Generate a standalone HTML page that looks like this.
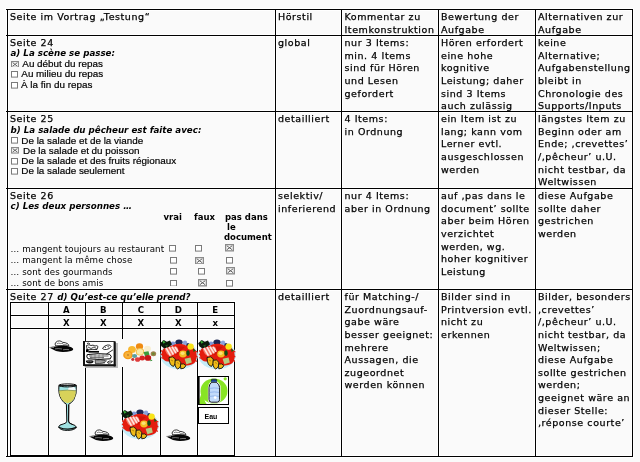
<!DOCTYPE html>
<html><head><meta charset="utf-8"><style>
html,body{margin:0;padding:0;background:#fafafa;}
body{width:640px;height:462px;position:relative;overflow:hidden;}
#w{position:absolute;left:0;top:0;width:640px;height:462px;will-change:transform;}
.l{position:absolute;}
.t,.bi,.ar,.sb,.sm,.nb{position:absolute;white-space:nowrap;color:#000;}
.t{font-family:"DejaVu Sans",sans-serif;font-size:9.5px;line-height:12.6px;letter-spacing:0.57px;-webkit-text-stroke:0.25px #000;}
.bi{font-family:"DejaVu Sans",sans-serif;font-size:8.7px;line-height:11px;font-weight:bold;font-style:italic;}
.bi2{font-size:8.7px;font-weight:bold;font-style:italic;letter-spacing:0;-webkit-text-stroke:0;}
.sb{font-family:"DejaVu Sans",sans-serif;font-size:8.5px;line-height:10.3px;font-weight:bold;}
.sm{font-family:"DejaVu Sans",sans-serif;font-size:8.7px;line-height:11px;letter-spacing:0.1px;}
.ar{font-family:"Liberation Sans",Arial,sans-serif;font-size:9.9px;line-height:11px;-webkit-text-stroke:0.2px #000;}
.nb{font-family:"DejaVu Sans",sans-serif;font-size:8.6px;line-height:12px;font-weight:bold;width:36px;text-align:center;}
.cb{position:absolute;line-height:0;}
.pic{position:absolute;line-height:0;}
.pic svg,.cb svg{display:block;}
.eau{position:absolute;left:198px;top:407px;width:29px;height:15px;border:1px solid #000;background:#fff;}
.eau span{position:absolute;left:5.5px;top:4.9px;font-family:"Liberation Sans",Arial,sans-serif;font-size:7px;font-weight:bold;line-height:8px;}
</style></head><body>
<div id="w">
<div class="l" style="left:5px;top:8px;width:629px;height:3px;background:#fff"></div>
<div class="l" style="left:5px;top:34px;width:629px;height:3px;background:#fff"></div>
<div class="l" style="left:5px;top:110px;width:629px;height:3px;background:#fff"></div>
<div class="l" style="left:5px;top:187px;width:629px;height:3px;background:#fff"></div>
<div class="l" style="left:5px;top:288px;width:629px;height:3px;background:#fff"></div>
<div class="l" style="left:5px;top:455px;width:629px;height:3px;background:#fff"></div>
<div class="l" style="left:6px;top:8px;width:3px;height:450px;background:#fff"></div>
<div class="l" style="left:274px;top:8px;width:3px;height:450px;background:#fff"></div>
<div class="l" style="left:340px;top:8px;width:3px;height:450px;background:#fff"></div>
<div class="l" style="left:437px;top:8px;width:3px;height:450px;background:#fff"></div>
<div class="l" style="left:534px;top:8px;width:3px;height:450px;background:#fff"></div>
<div class="l" style="left:631px;top:8px;width:3px;height:450px;background:#fff"></div>
<div class="l" style="left:9px;top:301px;width:227px;height:3px;background:#fff"></div>
<div class="l" style="left:9px;top:314px;width:227px;height:3px;background:#fff"></div>
<div class="l" style="left:9px;top:327px;width:227px;height:3px;background:#fff"></div>
<div class="l" style="left:9px;top:454px;width:227px;height:3px;background:#fff"></div>
<div class="l" style="left:9px;top:301px;width:3px;height:156px;background:#fff"></div>
<div class="l" style="left:47px;top:301px;width:3px;height:156px;background:#fff"></div>
<div class="l" style="left:84px;top:301px;width:3px;height:156px;background:#fff"></div>
<div class="l" style="left:121px;top:301px;width:3px;height:156px;background:#fff"></div>
<div class="l" style="left:159px;top:301px;width:3px;height:156px;background:#fff"></div>
<div class="l" style="left:196px;top:301px;width:3px;height:156px;background:#fff"></div>
<div class="l" style="left:233px;top:301px;width:3px;height:156px;background:#fff"></div>
<div class="l" style="left:6px;top:9px;width:627px;height:1px;background:#000"></div>
<div class="l" style="left:6px;top:35px;width:627px;height:1px;background:#000"></div>
<div class="l" style="left:6px;top:111px;width:627px;height:1px;background:#000"></div>
<div class="l" style="left:6px;top:188px;width:627px;height:1px;background:#000"></div>
<div class="l" style="left:6px;top:289px;width:627px;height:1px;background:#000"></div>
<div class="l" style="left:6px;top:456px;width:627px;height:1px;background:#000"></div>
<div class="l" style="left:7px;top:9px;width:1px;height:448px;background:#000"></div>
<div class="l" style="left:275px;top:9px;width:1px;height:448px;background:#000"></div>
<div class="l" style="left:341px;top:9px;width:1px;height:448px;background:#000"></div>
<div class="l" style="left:438px;top:9px;width:1px;height:448px;background:#000"></div>
<div class="l" style="left:535px;top:9px;width:1px;height:448px;background:#000"></div>
<div class="l" style="left:632px;top:9px;width:1px;height:448px;background:#000"></div>
<div class="t" style="left:10px;top:11.2px;">Seite im Vortrag „Testung“</div>
<div class="t" style="left:278px;top:11.2px;">Hörstil</div>
<div class="t" style="left:344.5px;top:11.2px;">Kommentar zu<br>Itemkonstruktion</div>
<div class="t" style="left:441px;top:11.2px;">Bewertung der<br>Aufgabe</div>
<div class="t" style="left:538px;top:11.2px;">Alternativen zur<br>Aufgabe</div>
<div class="t" style="left:278px;top:37.2px;">global</div>
<div class="t" style="left:344.5px;top:37.2px;">nur 3 Items:<br>min. 4 Items<br>sind für Hören<br>und Lesen<br>gefordert</div>
<div class="t" style="left:441px;top:37.2px;">Hören erfordert<br>eine hohe<br>kognitive<br>Leistung; daher<br>sind 3 Items<br>auch zulässig</div>
<div class="t" style="left:538px;top:37.2px;">keine<br>Alternative;<br>Aufgabenstellung<br>bleibt in<br>Chronologie des<br>Supports/Inputs</div>
<div class="t" style="left:278px;top:113.2px;">detailliert</div>
<div class="t" style="left:344.5px;top:113.2px;">4 Items:<br>in Ordnung</div>
<div class="t" style="left:441px;top:113.2px;">ein Item ist zu<br>lang; kann vom<br>Lerner evtl.<br>ausgeschlossen<br>werden</div>
<div class="t" style="left:538px;top:113.2px;">längstes Item zu<br>Beginn oder am<br>Ende; ‚crevettes’<br>/‚pêcheur’ u.U.<br>nicht testbar, da<br>Weltwissen</div>
<div class="t" style="left:278px;top:190.2px;">selektiv/<br>inferierend</div>
<div class="t" style="left:344.5px;top:190.2px;">nur 4 Items:<br>aber in Ordnung</div>
<div class="t" style="left:441px;top:190.2px;">auf ‚pas dans le<br>document’ sollte<br>aber beim Hören<br>verzichtet<br>werden, wg.<br>hoher kognitiver<br>Leistung</div>
<div class="t" style="left:538px;top:190.2px;">diese Aufgabe<br>sollte daher<br>gestrichen<br>werden</div>
<div class="t" style="left:278px;top:291.2px;">detailliert</div>
<div class="t" style="left:344.5px;top:291.2px;">für Matching-/<br>Zuordnungsauf-<br>gabe wäre<br>besser geeignet:<br>mehrere<br>Aussagen, die<br>zugeordnet<br>werden können</div>
<div class="t" style="left:441px;top:291.2px;">Bilder sind in<br>Printversion evtl.<br>nicht zu<br>erkennen</div>
<div class="t" style="left:538px;top:291.2px;">Bilder, besonders<br>‚crevettes’<br>/‚pêcheur’ u.U.<br>nicht testbar, da<br>Weltwissen;<br>diese Aufgabe<br>sollte gestrichen<br>werden;<br>geeignet wäre an<br>dieser Stelle:<br>‚réponse courte’</div>
<div class="t" style="left:10px;top:37.2px;">Seite 24</div>
<div class="bi" style="left:10.5px;top:48px;">a) La scène se passe:</div>
<div class="cb" style="left:11px;top:60.5px"><svg width="8" height="6.8" viewBox="0 0 8 6.8"><rect x="0.55" y="0.55" width="6.9" height="5.699999999999999" fill="#fbfbfb" stroke="#8a8a8a" stroke-width="1.1"/><path d="M1.7000000000000002 1.6 L6.300000000000001 5.199999999999999 M6.300000000000001 1.6 L1.7000000000000002 5.199999999999999" stroke="#5a5a5a" stroke-width="0.95"/></svg></div>
<div class="ar" style="left:22.3px;top:57.5px;">Au début du repas</div>
<div class="cb" style="left:11px;top:71.2px"><svg width="7" height="6.6" viewBox="0 0 7 6.6"><rect x="0.5" y="0.5" width="6" height="5.6" fill="#fff" stroke="#7a7a7a" stroke-width="1"/></svg></div>
<div class="ar" style="left:21.3px;top:68.3px;">Au milieu du repas</div>
<div class="cb" style="left:11px;top:82.1px"><svg width="7" height="6.6" viewBox="0 0 7 6.6"><rect x="0.5" y="0.5" width="6" height="5.6" fill="#fff" stroke="#7a7a7a" stroke-width="1"/></svg></div>
<div class="ar" style="left:21.0px;top:79px;">À la fin du repas</div>
<div class="t" style="left:10px;top:113.2px;">Seite 25</div>
<div class="bi" style="left:10.5px;top:124.5px;">b) La salade du pêcheur est faite avec:</div>
<div class="cb" style="left:11px;top:137.3px"><svg width="7" height="6.6" viewBox="0 0 7 6.6"><rect x="0.5" y="0.5" width="6" height="5.6" fill="#fff" stroke="#7a7a7a" stroke-width="1"/></svg></div>
<div class="ar" style="left:21.3px;top:134.6px;">De la salade et de la viande</div>
<div class="cb" style="left:11px;top:147.3px"><svg width="8" height="6.6" viewBox="0 0 8 6.6"><rect x="0.55" y="0.55" width="6.9" height="5.5" fill="#fbfbfb" stroke="#8a8a8a" stroke-width="1.1"/><path d="M1.7000000000000002 1.6 L6.300000000000001 5.0 M6.300000000000001 1.6 L1.7000000000000002 5.0" stroke="#5a5a5a" stroke-width="0.95"/></svg></div>
<div class="ar" style="left:23px;top:144.5px;">De la salade et du poisson</div>
<div class="cb" style="left:11px;top:158.4px"><svg width="7" height="6.6" viewBox="0 0 7 6.6"><rect x="0.5" y="0.5" width="6" height="5.6" fill="#fff" stroke="#7a7a7a" stroke-width="1"/></svg></div>
<div class="ar" style="left:21.3px;top:155.4px;">De la salade et des fruits régionaux</div>
<div class="cb" style="left:11px;top:168.2px"><svg width="7" height="6.6" viewBox="0 0 7 6.6"><rect x="0.5" y="0.5" width="6" height="5.6" fill="#fff" stroke="#7a7a7a" stroke-width="1"/></svg></div>
<div class="ar" style="left:21.3px;top:165.1px;">De la salade seulement</div>
<div class="t" style="left:10px;top:190.2px;">Seite 26</div>
<div class="bi" style="left:10.5px;top:200.5px;">c) Les deux personnes …</div>
<div class="sb" style="left:163.5px;top:211.5px;">vrai</div>
<div class="sb" style="left:194px;top:211.5px;">faux</div>
<div class="sb" style="left:225px;top:211.5px;">pas dans</div>
<div class="sb" style="left:227px;top:221.8px;">le</div>
<div class="sb" style="left:224px;top:232.1px;">document</div>
<div class="sm" style="left:10.5px;top:243.5px;">… mangent toujours au restaurant</div>
<div class="sm" style="left:10.5px;top:255.0px;">… mangent la même chose</div>
<div class="sm" style="left:10.5px;top:266.5px;">… sont des gourmands</div>
<div class="sm" style="left:10.5px;top:278.0px;">… sont de bons amis</div>
<div class="cb" style="left:169.2px;top:245.2px"><svg width="7" height="6.6" viewBox="0 0 7 6.6"><rect x="0.5" y="0.5" width="6" height="5.6" fill="#fff" stroke="#7a7a7a" stroke-width="1"/></svg></div>
<div class="cb" style="left:195.2px;top:245.2px"><svg width="7" height="6.6" viewBox="0 0 7 6.6"><rect x="0.5" y="0.5" width="6" height="5.6" fill="#fff" stroke="#7a7a7a" stroke-width="1"/></svg></div>
<div class="cb" style="left:225.2px;top:244.4px"><svg width="9" height="7.5" viewBox="0 0 9 7.5"><rect x="0.65" y="0.65" width="7.7" height="6.2" fill="#fbfbfb" stroke="#8a8a8a" stroke-width="1.3"/><path d="M1.9 1.8 L7.1000000000000005 5.7 M7.1000000000000005 1.8 L1.9 5.7" stroke="#5a5a5a" stroke-width="0.95"/></svg></div>
<div class="cb" style="left:170.4px;top:257px"><svg width="7" height="6.6" viewBox="0 0 7 6.6"><rect x="0.5" y="0.5" width="6" height="5.6" fill="#fff" stroke="#7a7a7a" stroke-width="1"/></svg></div>
<div class="cb" style="left:195.2px;top:256.5px"><svg width="9" height="7.5" viewBox="0 0 9 7.5"><rect x="0.65" y="0.65" width="7.7" height="6.2" fill="#fbfbfb" stroke="#8a8a8a" stroke-width="1.3"/><path d="M1.9 1.8 L7.1000000000000005 5.7 M7.1000000000000005 1.8 L1.9 5.7" stroke="#5a5a5a" stroke-width="0.95"/></svg></div>
<div class="cb" style="left:225.8px;top:257.1px"><svg width="7" height="6.6" viewBox="0 0 7 6.6"><rect x="0.5" y="0.5" width="6" height="5.6" fill="#fff" stroke="#7a7a7a" stroke-width="1"/></svg></div>
<div class="cb" style="left:170.4px;top:268.1px"><svg width="7" height="6.6" viewBox="0 0 7 6.6"><rect x="0.5" y="0.5" width="6" height="5.6" fill="#fff" stroke="#7a7a7a" stroke-width="1"/></svg></div>
<div class="cb" style="left:198px;top:268px"><svg width="7" height="6.6" viewBox="0 0 7 6.6"><rect x="0.5" y="0.5" width="6" height="5.6" fill="#fff" stroke="#7a7a7a" stroke-width="1"/></svg></div>
<div class="cb" style="left:226px;top:267.2px"><svg width="9" height="7.5" viewBox="0 0 9 7.5"><rect x="0.65" y="0.65" width="7.7" height="6.2" fill="#fbfbfb" stroke="#8a8a8a" stroke-width="1.3"/><path d="M1.9 1.8 L7.1000000000000005 5.7 M7.1000000000000005 1.8 L1.9 5.7" stroke="#5a5a5a" stroke-width="0.95"/></svg></div>
<div class="cb" style="left:170.4px;top:279.8px"><svg width="7" height="6.6" viewBox="0 0 7 6.6"><rect x="0.5" y="0.5" width="6" height="5.6" fill="#fff" stroke="#7a7a7a" stroke-width="1"/></svg></div>
<div class="cb" style="left:198px;top:279.1px"><svg width="9" height="7.5" viewBox="0 0 9 7.5"><rect x="0.65" y="0.65" width="7.7" height="6.2" fill="#fbfbfb" stroke="#8a8a8a" stroke-width="1.3"/><path d="M1.9 1.8 L7.1000000000000005 5.7 M7.1000000000000005 1.8 L1.9 5.7" stroke="#5a5a5a" stroke-width="0.95"/></svg></div>
<div class="cb" style="left:225.8px;top:280px"><svg width="7" height="6.6" viewBox="0 0 7 6.6"><rect x="0.5" y="0.5" width="6" height="5.6" fill="#fff" stroke="#7a7a7a" stroke-width="1"/></svg></div>
<div class="t" style="left:10px;top:291.2px;">Seite 27 <span class="bi2">d) Qu’est-ce qu’elle prend?</span></div>
<div class="l" style="left:10px;top:302px;width:225px;height:1px;background:#000"></div>
<div class="l" style="left:10px;top:315px;width:225px;height:1px;background:#000"></div>
<div class="l" style="left:10px;top:328px;width:225px;height:1px;background:#000"></div>
<div class="l" style="left:10px;top:455px;width:225px;height:1px;background:#000"></div>
<div class="l" style="left:10px;top:302px;width:1px;height:154px;background:#000"></div>
<div class="l" style="left:48px;top:302px;width:1px;height:154px;background:#000"></div>
<div class="l" style="left:85px;top:302px;width:1px;height:154px;background:#000"></div>
<div class="l" style="left:122px;top:302px;width:1px;height:154px;background:#000"></div>
<div class="l" style="left:160px;top:302px;width:1px;height:154px;background:#000"></div>
<div class="l" style="left:197px;top:302px;width:1px;height:154px;background:#000"></div>
<div class="l" style="left:234px;top:302px;width:1px;height:154px;background:#000"></div>
<div class="nb" style="left:48.3px;top:303.7px">A</div>
<div class="nb" style="left:48.3px;top:316.7px">X</div>
<div class="nb" style="left:85.3px;top:303.7px">B</div>
<div class="nb" style="left:85.3px;top:316.7px">X</div>
<div class="nb" style="left:122.80000000000001px;top:303.7px">C</div>
<div class="nb" style="left:122.80000000000001px;top:316.7px">X</div>
<div class="nb" style="left:160.3px;top:303.7px">D</div>
<div class="nb" style="left:160.3px;top:316.7px">X</div>
<div class="nb" style="left:197.3px;top:303.7px">E</div>
<div class="nb" style="left:197.3px;top:316.7px">x</div>
<div class="pic" style="left:49px;top:340px"><svg width="25" height="13" viewBox="0 0 25 13">
<path d="M0.3 7.4 Q3 6.8 6 6.6 Q10 5.6 15 5.8 Q21 6.2 24 8.4 Q24.8 10 22 11 Q17 12.2 11 11.8 Q6.5 11.4 4 9.6 Q2 8.3 0.3 7.4 Z" fill="#050505"/>
<path d="M0.3 7.4 Q3 7.1 5 7.4" stroke="#aaa" stroke-width="0.8" fill="none"/>
<path d="M6.6 5.8 Q5.4 4 6.8 2.4 Q8.4 0.7 10.6 0.9 Q12.6 1.2 13.6 2.3 Q16.6 2.5 18.6 3.7 Q20 4.7 19.8 6 Q13 5.2 6.6 5.8 Z" fill="#fff" stroke="#000" stroke-width="0.8"/>
<path d="M7.8 3.8 Q9.8 2.6 11.6 3.6 Q12.8 3 14.2 3.8 M13.8 4.9 Q16.4 4.2 18.6 5.2" stroke="#000" stroke-width="0.5" fill="none"/>
<path d="M6 8.9 Q9 8.2 13 9 M14 9.8 Q17 9.2 20 9.6" stroke="#bbb" stroke-width="0.6" fill="none"/>
</svg></div>
<div class="pic" style="left:88.5px;top:428.5px"><svg width="25" height="13" viewBox="0 0 25 13">
<path d="M0.3 7.4 Q3 6.8 6 6.6 Q10 5.6 15 5.8 Q21 6.2 24 8.4 Q24.8 10 22 11 Q17 12.2 11 11.8 Q6.5 11.4 4 9.6 Q2 8.3 0.3 7.4 Z" fill="#050505"/>
<path d="M0.3 7.4 Q3 7.1 5 7.4" stroke="#aaa" stroke-width="0.8" fill="none"/>
<path d="M6.6 5.8 Q5.4 4 6.8 2.4 Q8.4 0.7 10.6 0.9 Q12.6 1.2 13.6 2.3 Q16.6 2.5 18.6 3.7 Q20 4.7 19.8 6 Q13 5.2 6.6 5.8 Z" fill="#fff" stroke="#000" stroke-width="0.8"/>
<path d="M7.8 3.8 Q9.8 2.6 11.6 3.6 Q12.8 3 14.2 3.8 M13.8 4.9 Q16.4 4.2 18.6 5.2" stroke="#000" stroke-width="0.5" fill="none"/>
<path d="M6 8.9 Q9 8.2 13 9 M14 9.8 Q17 9.2 20 9.6" stroke="#bbb" stroke-width="0.6" fill="none"/>
</svg></div>
<div class="pic" style="left:165.5px;top:428.5px"><svg width="25" height="13" viewBox="0 0 25 13">
<path d="M0.3 7.4 Q3 6.8 6 6.6 Q10 5.6 15 5.8 Q21 6.2 24 8.4 Q24.8 10 22 11 Q17 12.2 11 11.8 Q6.5 11.4 4 9.6 Q2 8.3 0.3 7.4 Z" fill="#050505"/>
<path d="M0.3 7.4 Q3 7.1 5 7.4" stroke="#aaa" stroke-width="0.8" fill="none"/>
<path d="M6.6 5.8 Q5.4 4 6.8 2.4 Q8.4 0.7 10.6 0.9 Q12.6 1.2 13.6 2.3 Q16.6 2.5 18.6 3.7 Q20 4.7 19.8 6 Q13 5.2 6.6 5.8 Z" fill="#fff" stroke="#000" stroke-width="0.8"/>
<path d="M7.8 3.8 Q9.8 2.6 11.6 3.6 Q12.8 3 14.2 3.8 M13.8 4.9 Q16.4 4.2 18.6 5.2" stroke="#000" stroke-width="0.5" fill="none"/>
<path d="M6 8.9 Q9 8.2 13 9 M14 9.8 Q17 9.2 20 9.6" stroke="#bbb" stroke-width="0.6" fill="none"/>
</svg></div>
<div class="pic" style="left:83px;top:341.3px"><svg width="35" height="27" viewBox="0 0 35 27">
<rect x="0" y="0" width="33" height="25" fill="#fff"/>
<rect x="2" y="24" width="33" height="3" fill="#bbb"/>
<rect x="32" y="2" width="3" height="25" fill="#bbb"/>
<rect x="0.5" y="0.5" width="31.5" height="24" fill="none" stroke="#333" stroke-width="1"/>
<rect x="0" y="0" width="2" height="25" fill="#111"/>
<rect x="30.6" y="1" width="2" height="24.5" fill="#111"/>
<rect x="1" y="23.2" width="31.6" height="2" fill="#111"/>
<path d="M4 2.5 Q5.5 1.5 7 3 M3.5 4.5 Q6 3 8 4.5 Q10 3.5 12 5 Q14 4 15 5.5 L14 8.5 Q9 8 4.5 9 Q3.5 7 3.5 4.5 Z" fill="none" stroke="#000" stroke-width="0.8"/>
<path d="M5 6 L8 7.5 L11 6 L13.5 7.5" stroke="#000" stroke-width="0.7" fill="none"/>
<rect x="3" y="8.3" width="2.6" height="2.8" fill="#000"/>
<path d="M5.5 10.8 L16 10.8" stroke="#000" stroke-width="1.7"/>
<path d="M19.5 7.5 Q21 4.5 24.5 4 Q27.5 3.5 28 5.5 Q27 8 23.5 8.5 Q21 9 19.5 7.5 Z" fill="none" stroke="#000" stroke-width="0.8"/>
<path d="M21.5 6 L23 6.5 M24.5 5.5 L26 6" stroke="#000" stroke-width="0.7"/>
<path d="M23.5 13 L30 8.8" stroke="#000" stroke-width="0.8"/>
<path d="M4.2 13.6 Q15 12 26.5 13.2 Q29.6 15.2 27.4 17.8 Q16 19 5 17.8 Q3 16 4.2 13.6 Z" fill="none" stroke="#000" stroke-width="1"/>
<path d="M6 15 L25.5 15 M7 16.6 L21 16.6" stroke="#333" stroke-width="0.7"/>
<path d="M8 13 L8 18 M12 12.8 L12 18.3 M16 12.7 L16 18.4 M20 12.8 L20 18.3" stroke="#555" stroke-width="0.5"/>
<path d="M2.8 19.8 Q6.5 18 10.5 19.8 Q11 22.4 6.8 22.6 Q2.8 22.4 2.8 19.8 Z" fill="#111"/>
<path d="M4.5 20.2 Q6.5 19.5 8.5 20.3" stroke="#fff" stroke-width="0.5" fill="none"/>
<path d="M13 19.5 L13 22.6 M15 19.3 L15 22.6 M17 19.3 L17 22.6 M19 19.3 L19 22.6 M21 19.5 L21 22.6" stroke="#000" stroke-width="0.75"/>
<path d="M12 19.2 Q17.5 18.4 23.5 19.8 Q21 23 12.4 22.6 Z" fill="none" stroke="#000" stroke-width="0.6"/>
<path d="M24.5 21 Q26.8 19.2 29.5 20.4 Q28.4 22.4 25 22.2 Z" fill="none" stroke="#000" stroke-width="0.8"/>
</svg></div>
<div class="pic" style="left:118px;top:338.5px"><svg width="40" height="28" viewBox="0 0 40 28">
<rect width="40" height="28" fill="#fafafa"/>
<g transform="translate(0,0.9) scale(1,0.9)">
<circle cx="21.5" cy="7.2" r="3.6" fill="#f08a10"/>
<circle cx="14" cy="10.6" r="3.9" fill="#f8b830"/>
<circle cx="29.5" cy="10" r="3.4" fill="#f8eed0"/>
<circle cx="35.4" cy="15.4" r="2.8" fill="#a08050"/>
<circle cx="35.4" cy="15.4" r="1.4" fill="#6a8a30"/>
<circle cx="22" cy="13.2" r="4.2" fill="#f3c050"/>
<circle cx="22" cy="13.2" r="3.2" fill="#f8eaa8"/>
<circle cx="10" cy="16.8" r="4.8" fill="#f39a18"/>
<circle cx="10" cy="16.8" r="3.4" fill="#f8b23a"/>
<circle cx="10" cy="16.8" r="0.9" fill="#b06a20"/>
<path d="M25.5 13.5 L30.5 12.5 L31.5 16.5 L27 18.5 Z" fill="#3a9c3a"/>
<ellipse cx="16.6" cy="18" rx="2.6" ry="2.2" fill="#5aa0a0"/>
<circle cx="19.6" cy="21.8" r="2.6" fill="#e03c3c"/>
<circle cx="24.2" cy="20.2" r="2.8" fill="#d82222"/>
<circle cx="30" cy="20" r="3.2" fill="#c41616"/>
<path d="M32.5 21.5 L34.5 23 L32.4 23.6 Z" fill="#2a8a2a"/>
<circle cx="14.8" cy="21.8" r="1.6" fill="#c83232"/>
</g>
</svg></div>
<div class="pic" style="left:159.5px;top:338.5px"><svg width="38" height="31" viewBox="0 0 38 31">
<ellipse cx="19.2" cy="16.4" rx="18.7" ry="13.9" fill="#c4ecf8"/>
<ellipse cx="13" cy="4.8" rx="2.4" ry="2.2" fill="#7f98d8"/>
<ellipse cx="19" cy="3.2" rx="3.6" ry="2.6" fill="#1e2652"/>
<ellipse cx="25" cy="3.8" rx="2.2" ry="2.3" fill="#8aa2dc"/>
<ellipse cx="28" cy="6.6" rx="1.8" ry="2.6" fill="#1e2652"/>
<path d="M2 13 C3 8.5 7 6.5 12 6.8 C15 4.4 22 4 26 6.5 C30 6.8 35 8.5 36.2 13 C37.4 17.5 36.5 21.5 34.5 24 C31 26.8 26 27 22 25.5 C17 24 12 22.5 8 22.5 C5 22.5 3 20.5 2.4 18.5 C1.8 16.5 1.6 14.8 2 13 Z" fill="#e41c0e"/>
<path d="M1.2 11.5 L4 14 M1 15 L4 17 M1.4 18.5 L4.5 20 M35 12 L37.4 13 M35.5 17 L37.4 18 M34.6 21 L36.8 22.5" stroke="#e41c0e" stroke-width="1.3"/>
<path d="M12 9 Q18 6 25 8 Q21 11 17 16 Q12 14 12 9 Z" fill="#d01408"/>
<path d="M0.2 4.2 L3.8 1 L6.8 2.8 L10 1.4 L12 5.2 L8.6 8.6 L4 9.2 L1.4 7.2 Z" fill="#0c1a0c"/>
<path d="M2.2 1.4 L5.8 3 L3.4 4.8 Z" fill="#34ac34"/>
<path d="M5 6.6 L8 5.6 L7 8.2 Z" fill="#1c5c1c"/>
<path d="M4.6 9.6 Q10 7 16 7.5 Q19 9 18 12 Q14 15 10.5 17.5 Q6 16 4.6 9.6 Z" fill="#f47a6a"/>
<path d="M6 8.9 L10.4 16.6 M9 7.9 L13.4 15.6 M12 7.6 L16.2 14.4 M15 7.9 L18.2 12.8" stroke="#ffe6e0" stroke-width="1.6"/>
<ellipse cx="23" cy="15" rx="3.8" ry="3.4" fill="#f4be20"/>
<ellipse cx="22.6" cy="14.3" rx="2" ry="1.7" fill="#fae274"/>
<ellipse cx="28" cy="14.2" rx="1.7" ry="2.9" fill="#0e4c14"/>
<circle cx="30.6" cy="7.6" r="3.2" fill="#f8e418"/>
<path d="M33 9.5 L35.8 11.6 L33.6 13 Z" fill="#146214"/>
<path d="M24.6 19.8 L30.6 18.6 L31.8 23.4 L26.4 25.2 Z" fill="#b6cc84"/>
<path d="M9 18.6 Q12.8 16.6 15.2 19.8 Q16.4 24.6 13.6 27.4 Q9.2 26.8 9 18.6 Z" fill="#f0bc18" stroke="#111" stroke-width="0.9"/>
<path d="M15.2 21.4 Q18.6 19.6 20.8 23.2 Q21.2 29.2 17.4 29.9 Q14.2 28 15.2 21.4 Z" fill="#f0bc18" stroke="#111" stroke-width="0.9"/>
<path d="M20.4 25.2 Q23.8 23.8 26 26.6 Q24.4 30.2 20.8 29.8 Z" fill="#f0bc18" stroke="#111" stroke-width="0.9"/>
<path d="M11 21 L13 22 M17 23.5 L19 24.5" stroke="#a07010" stroke-width="0.7"/>
</svg></div>
<div class="pic" style="left:198px;top:338.5px"><svg width="38" height="31" viewBox="0 0 38 31">
<ellipse cx="19.2" cy="16.4" rx="18.7" ry="13.9" fill="#c4ecf8"/>
<ellipse cx="13" cy="4.8" rx="2.4" ry="2.2" fill="#7f98d8"/>
<ellipse cx="19" cy="3.2" rx="3.6" ry="2.6" fill="#1e2652"/>
<ellipse cx="25" cy="3.8" rx="2.2" ry="2.3" fill="#8aa2dc"/>
<ellipse cx="28" cy="6.6" rx="1.8" ry="2.6" fill="#1e2652"/>
<path d="M2 13 C3 8.5 7 6.5 12 6.8 C15 4.4 22 4 26 6.5 C30 6.8 35 8.5 36.2 13 C37.4 17.5 36.5 21.5 34.5 24 C31 26.8 26 27 22 25.5 C17 24 12 22.5 8 22.5 C5 22.5 3 20.5 2.4 18.5 C1.8 16.5 1.6 14.8 2 13 Z" fill="#e41c0e"/>
<path d="M1.2 11.5 L4 14 M1 15 L4 17 M1.4 18.5 L4.5 20 M35 12 L37.4 13 M35.5 17 L37.4 18 M34.6 21 L36.8 22.5" stroke="#e41c0e" stroke-width="1.3"/>
<path d="M12 9 Q18 6 25 8 Q21 11 17 16 Q12 14 12 9 Z" fill="#d01408"/>
<path d="M0.2 4.2 L3.8 1 L6.8 2.8 L10 1.4 L12 5.2 L8.6 8.6 L4 9.2 L1.4 7.2 Z" fill="#0c1a0c"/>
<path d="M2.2 1.4 L5.8 3 L3.4 4.8 Z" fill="#34ac34"/>
<path d="M5 6.6 L8 5.6 L7 8.2 Z" fill="#1c5c1c"/>
<path d="M4.6 9.6 Q10 7 16 7.5 Q19 9 18 12 Q14 15 10.5 17.5 Q6 16 4.6 9.6 Z" fill="#f47a6a"/>
<path d="M6 8.9 L10.4 16.6 M9 7.9 L13.4 15.6 M12 7.6 L16.2 14.4 M15 7.9 L18.2 12.8" stroke="#ffe6e0" stroke-width="1.6"/>
<ellipse cx="23" cy="15" rx="3.8" ry="3.4" fill="#f4be20"/>
<ellipse cx="22.6" cy="14.3" rx="2" ry="1.7" fill="#fae274"/>
<ellipse cx="28" cy="14.2" rx="1.7" ry="2.9" fill="#0e4c14"/>
<circle cx="30.6" cy="7.6" r="3.2" fill="#f8e418"/>
<path d="M33 9.5 L35.8 11.6 L33.6 13 Z" fill="#146214"/>
<path d="M24.6 19.8 L30.6 18.6 L31.8 23.4 L26.4 25.2 Z" fill="#b6cc84"/>
<path d="M9 18.6 Q12.8 16.6 15.2 19.8 Q16.4 24.6 13.6 27.4 Q9.2 26.8 9 18.6 Z" fill="#f0bc18" stroke="#111" stroke-width="0.9"/>
<path d="M15.2 21.4 Q18.6 19.6 20.8 23.2 Q21.2 29.2 17.4 29.9 Q14.2 28 15.2 21.4 Z" fill="#f0bc18" stroke="#111" stroke-width="0.9"/>
<path d="M20.4 25.2 Q23.8 23.8 26 26.6 Q24.4 30.2 20.8 29.8 Z" fill="#f0bc18" stroke="#111" stroke-width="0.9"/>
<path d="M11 21 L13 22 M17 23.5 L19 24.5" stroke="#a07010" stroke-width="0.7"/>
</svg></div>
<div class="pic" style="left:120.5px;top:409px"><svg width="38" height="31" viewBox="0 0 38 31">
<ellipse cx="19.2" cy="16.4" rx="18.7" ry="13.9" fill="#c4ecf8"/>
<ellipse cx="13" cy="4.8" rx="2.4" ry="2.2" fill="#7f98d8"/>
<ellipse cx="19" cy="3.2" rx="3.6" ry="2.6" fill="#1e2652"/>
<ellipse cx="25" cy="3.8" rx="2.2" ry="2.3" fill="#8aa2dc"/>
<ellipse cx="28" cy="6.6" rx="1.8" ry="2.6" fill="#1e2652"/>
<path d="M2 13 C3 8.5 7 6.5 12 6.8 C15 4.4 22 4 26 6.5 C30 6.8 35 8.5 36.2 13 C37.4 17.5 36.5 21.5 34.5 24 C31 26.8 26 27 22 25.5 C17 24 12 22.5 8 22.5 C5 22.5 3 20.5 2.4 18.5 C1.8 16.5 1.6 14.8 2 13 Z" fill="#e41c0e"/>
<path d="M1.2 11.5 L4 14 M1 15 L4 17 M1.4 18.5 L4.5 20 M35 12 L37.4 13 M35.5 17 L37.4 18 M34.6 21 L36.8 22.5" stroke="#e41c0e" stroke-width="1.3"/>
<path d="M12 9 Q18 6 25 8 Q21 11 17 16 Q12 14 12 9 Z" fill="#d01408"/>
<path d="M0.2 4.2 L3.8 1 L6.8 2.8 L10 1.4 L12 5.2 L8.6 8.6 L4 9.2 L1.4 7.2 Z" fill="#0c1a0c"/>
<path d="M2.2 1.4 L5.8 3 L3.4 4.8 Z" fill="#34ac34"/>
<path d="M5 6.6 L8 5.6 L7 8.2 Z" fill="#1c5c1c"/>
<path d="M4.6 9.6 Q10 7 16 7.5 Q19 9 18 12 Q14 15 10.5 17.5 Q6 16 4.6 9.6 Z" fill="#f47a6a"/>
<path d="M6 8.9 L10.4 16.6 M9 7.9 L13.4 15.6 M12 7.6 L16.2 14.4 M15 7.9 L18.2 12.8" stroke="#ffe6e0" stroke-width="1.6"/>
<ellipse cx="23" cy="15" rx="3.8" ry="3.4" fill="#f4be20"/>
<ellipse cx="22.6" cy="14.3" rx="2" ry="1.7" fill="#fae274"/>
<ellipse cx="28" cy="14.2" rx="1.7" ry="2.9" fill="#0e4c14"/>
<circle cx="30.6" cy="7.6" r="3.2" fill="#f8e418"/>
<path d="M33 9.5 L35.8 11.6 L33.6 13 Z" fill="#146214"/>
<path d="M24.6 19.8 L30.6 18.6 L31.8 23.4 L26.4 25.2 Z" fill="#b6cc84"/>
<path d="M9 18.6 Q12.8 16.6 15.2 19.8 Q16.4 24.6 13.6 27.4 Q9.2 26.8 9 18.6 Z" fill="#f0bc18" stroke="#111" stroke-width="0.9"/>
<path d="M15.2 21.4 Q18.6 19.6 20.8 23.2 Q21.2 29.2 17.4 29.9 Q14.2 28 15.2 21.4 Z" fill="#f0bc18" stroke="#111" stroke-width="0.9"/>
<path d="M20.4 25.2 Q23.8 23.8 26 26.6 Q24.4 30.2 20.8 29.8 Z" fill="#f0bc18" stroke="#111" stroke-width="0.9"/>
<path d="M11 21 L13 22 M17 23.5 L19 24.5" stroke="#a07010" stroke-width="0.7"/>
</svg></div>
<div class="pic" style="left:54px;top:380px"><svg width="28" height="54" viewBox="0 0 28 54">
<path d="M4.9 5.6 Q4.1 14.5 7.6 19.6 Q10 23.2 12.4 24.2 L12.8 41.2 Q12.6 43.4 9.2 44 Q5 44.7 4.6 47 Q6.5 50.6 13.6 50.4 Q20.6 50.3 22.4 47.2 Q21.8 45 17.6 44.2 Q14.6 43.4 14.6 41.2 L14.8 24.2 Q17.4 23.2 19.8 19.6 Q23 14.5 22.3 5.6 Z" fill="#9fe2e2" stroke="#0a0a0a" stroke-width="1"/>
<path d="M15 6.2 Q21 6.5 21.6 9 L21.6 10.6 Q17 9.8 14 10 Z" fill="#f4fcfc"/>
<path d="M5.2 10.8 Q5.2 16 7.9 19.4 Q10.4 23 13.6 23.3 Q17 23 19.5 19.4 Q22 16 21.9 10.8 Q13.5 9.6 5.2 10.8 Z" fill="#d8d25a"/>
<path d="M5.2 10.8 Q13.5 9.4 21.9 10.8" stroke="#7c7a28" stroke-width="0.6" fill="none"/>
<ellipse cx="13.6" cy="5.4" rx="8.8" ry="1.5" fill="none" stroke="#0a0a0a" stroke-width="1"/>
<path d="M4.6 47.2 Q13.6 51 22.4 47.4" stroke="#0a0a0a" stroke-width="1.2" fill="none"/>
<path d="M14.7 25 L14.6 41.2 Q14.8 43.4 18.4 44.3" stroke="#0a0a0a" stroke-width="0.9" fill="none"/>
</svg></div>
<div class="pic" style="left:198px;top:376px"><svg width="31" height="30" viewBox="0 0 31 30">
<rect x="0" y="0" width="31" height="29" fill="#fff"/>
<ellipse cx="16" cy="15" rx="13.5" ry="12.6" fill="#88e424"/>
<path d="M3.2 18 Q1 23 1 28.5 L9 28.5 Q6 25 6.5 21 Z" fill="#88e424"/>
<circle cx="27.2" cy="2.8" r="1.6" fill="#88e424"/>
<path d="M13.6 6.2 L18.4 6.2 Q21.6 8.6 21.6 11.4 L21.6 23.6 Q21.6 26.2 19.2 26.2 L13.4 26.2 Q11 26.2 11 23.6 L11 11.4 Q11 8.6 13.6 6.2 Z" fill="#fff" stroke="#fff" stroke-width="2.2"/>
<rect x="13.3" y="3.2" width="5.4" height="3.1" rx="0.8" fill="#1c3a88" stroke="#000" stroke-width="0.5"/>
<rect x="13.5" y="5" width="5" height="1" fill="#3a78d8"/>
<path d="M13.6 6.2 L18.4 6.2 Q21.6 8.6 21.6 11.4 L21.6 23.6 Q21.6 26.2 19.2 26.2 L13.4 26.2 Q11 26.2 11 23.6 L11 11.4 Q11 8.6 13.6 6.2 Z" fill="#c2dafa" stroke="#000" stroke-width="0.9"/>
<path d="M11.6 12.4 Q16.3 11.4 21 12.4 M11.6 16.4 Q16.3 15.4 21 16.4 M11.6 20.4 Q16.3 19.4 21 20.4" stroke="#80a6e6" stroke-width="0.7" fill="none"/>
<circle cx="17.2" cy="21.6" r="1.4" fill="#fff"/>
<rect x="0.5" y="0.5" width="30" height="28" fill="none" stroke="#000" stroke-width="1"/>
<rect x="0" y="0" width="1.6" height="29" fill="#000"/>
</svg></div>
<div class="eau"><span>Eau</span></div>
</div>
</body></html>
